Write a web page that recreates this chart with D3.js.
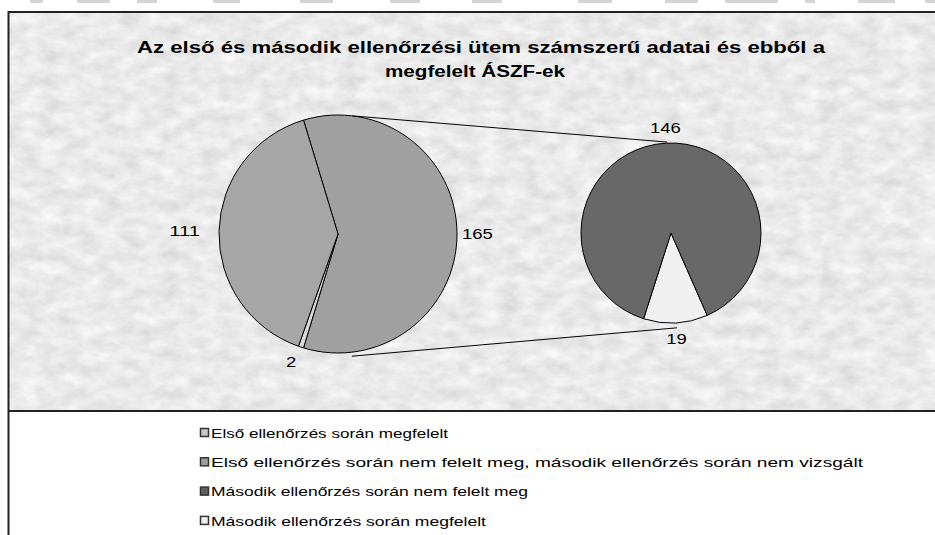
<!DOCTYPE html>
<html>
<head>
<meta charset="utf-8">
<script src="https://cdn.jsdelivr.net/npm/d3@7"></script>
<style>
  html, body { margin: 0; padding: 0; background: #ffffff; }
  svg { display: block; }
  text { font-family: "Liberation Sans", Arial, sans-serif; fill: #000; }
</style>
</head>
<body>
<svg id="chart" width="935" height="535"></svg>
<script>
// ---- data ----
const titleLines = ["Az első és második ellenőrzési ütem számszerű adatai és ebből a", "megfelelt ÁSZF-ek"];
const categories = [
  "Első ellenőrzés során megfelelt",
  "Első ellenőrzés során nem felelt meg, második ellenőrzés során nem vizsgált",
  "Második ellenőrzés során nem felelt meg",
  "Második ellenőrzés során megfelelt"
];
const values = [111, 2, 146, 19];
const primaryIdx = [0, 1];     // shown individually in the main pie
const secondaryIdx = [2, 3];   // split out into the secondary pie
const sliceColors = ["#a6a6a6", "#d8d8d8", "#686868", "#f0f0f0"];
const legendColors = ["#c8c8c8", "#a0a0a0", "#606060", "#f0f0f0"];
const otherColor = "#a0a0a0";

// ---- layout ----
const W = 935, H = 535;
const frame = { x: 9, y: 12, bottom: 411 };
const P = { cx: 338, cy: 234, r: 119 };
const S = { cx: 671, cy: 233, r: 90 };

const svg = d3.select("#chart");
const defs = svg.append("defs");
const f = defs.append("filter").attr("id", "tex").attr("x", 0).attr("y", 0).attr("width", 1).attr("height", 1);
f.append("feTurbulence").attr("type", "fractalNoise").attr("baseFrequency", "0.05 0.08")
  .attr("numOctaves", 5).attr("seed", 11).attr("result", "n");
f.append("feColorMatrix").attr("in", "n").attr("type", "matrix")
  .attr("values", "0.32 0 0 0 0.66  0.32 0 0 0 0.66  0.32 0 0 0 0.66  0 0 0 0 1");

// top strip remnants (decoration from the page above)
const strip = [[30,43],[77,110],[137,157],[213,240],[300,333],[390,420],[472,502],[578,612],[665,698],[725,778],[805,815],[858,895],[925,935]];
svg.selectAll("rect.strip").data(strip).join("rect")
  .attr("x", d => d[0]).attr("y", 0).attr("width", d => d[1] - d[0]).attr("height", 3)
  .attr("fill", "#d4d4d4");

// plot area background
svg.append("rect").attr("x", frame.x).attr("y", frame.y).attr("width", W - frame.x).attr("height", frame.bottom - frame.y)
  .attr("fill", "#d0d0d0");
svg.append("rect").attr("x", frame.x).attr("y", frame.y).attr("width", W - frame.x).attr("height", frame.bottom - frame.y)
  .attr("filter", "url(#tex)");

// frame lines
svg.append("line").attr("x1", frame.x - 0.5).attr("x2", W).attr("y1", frame.y).attr("y2", frame.y).attr("stroke", "#222").attr("stroke-width", 2);
svg.append("line").attr("x1", frame.x - 0.5).attr("x2", W).attr("y1", frame.bottom).attr("y2", frame.bottom).attr("stroke", "#222").attr("stroke-width", 2);
svg.append("line").attr("x1", frame.x - 0.5).attr("x2", frame.x - 0.5).attr("y1", frame.y - 1).attr("y2", H).attr("stroke", "#222").attr("stroke-width", 2);

// title
const titleG = svg.append("g");
titleG.append("text").attr("x", 481).attr("y", 53).attr("text-anchor", "middle")
  .attr("font-size", 16).attr("font-weight", "bold").attr("textLength", 688).attr("lengthAdjust", "spacingAndGlyphs")
  .text(titleLines[0]);
titleG.append("text").attr("x", 475).attr("y", 77).attr("text-anchor", "middle")
  .attr("font-size", 16).attr("font-weight", "bold").attr("textLength", 180).attr("lengthAdjust", "spacingAndGlyphs")
  .text(titleLines[1]);

const deg = Math.PI / 180;
// ---- primary pie ----
const otherValue = d3.sum(secondaryIdx, i => values[i]);
const total = d3.sum(values);
const otherSpan = otherValue / total * 2 * Math.PI;
const primaryData = [{ key: "other", value: otherValue, color: otherColor }]
  .concat(primaryIdx.slice().reverse().map(i => ({ key: i, value: values[i], color: sliceColors[i] })));
const pieP = d3.pie().sort(null).value(d => d.value)
  .startAngle(Math.PI / 2 - otherSpan / 2).endAngle(Math.PI / 2 - otherSpan / 2 + 2 * Math.PI);
const arcP = d3.arc().innerRadius(0).outerRadius(P.r);
const gP = svg.append("g").attr("transform", `translate(${P.cx},${P.cy})`);
const arcsP = pieP(primaryData);
gP.selectAll("path").data(arcsP).join("path")
  .attr("d", arcP).attr("fill", d => d.data.color).attr("stroke", "#000").attr("stroke-width", 1);

// ---- secondary pie ----
const secData = secondaryIdx.slice().reverse().map(i => ({ key: i, value: values[i], color: sliceColors[i] }));
const lastSpan = values[secondaryIdx[1]] / otherValue * 2 * Math.PI;
const secCenterAngle = 177 * deg;
const pieS = d3.pie().sort(null).value(d => d.value)
  .startAngle(secCenterAngle - lastSpan / 2).endAngle(secCenterAngle - lastSpan / 2 + 2 * Math.PI);
const arcS = d3.arc().innerRadius(0).outerRadius(S.r);
const gS = svg.append("g").attr("transform", `translate(${S.cx},${S.cy})`);
const arcsS = pieS(secData);
gS.selectAll("path").data(arcsS).join("path")
  .attr("d", arcS).attr("fill", d => d.data.color).attr("stroke", "#000").attr("stroke-width", 1);

// ---- connector lines ----
const pt = (c, a, r) => [c.cx + r * Math.sin(a), c.cy - r * Math.cos(a)];
const p1 = pt(P, 7 * deg, P.r), p2 = pt(S, -2.5 * deg, S.r + 1);
const p3 = pt(P, 173.5 * deg, P.r + 4), p4 = pt(S, 176.4 * deg, S.r + 5);
svg.append("line").attr("x1", p1[0]).attr("y1", p1[1]).attr("x2", p2[0]).attr("y2", p2[1]).attr("stroke", "#000");
svg.append("line").attr("x1", p3[0]).attr("y1", p3[1]).attr("x2", p4[0]).attr("y2", p4[1]).attr("stroke", "#000");

// ---- data labels ----
const labelFont = 15;
function addLabel(g, arc, r, extra) {
  const mid = (arc.startAngle + arc.endAngle) / 2;
  const x = (r + extra) * Math.sin(mid), y = -(r + extra) * Math.cos(mid);
  const anchor = Math.abs(Math.sin(mid)) < 0.3 ? "middle" : (Math.sin(mid) > 0 ? "start" : "end");
  const s = String(arc.data.value);
  g.append("text").attr("x", x).attr("y", y).attr("dy", "0.36em").attr("text-anchor", anchor)
    .attr("font-size", labelFont).attr("textLength", s.length * 10.3).attr("lengthAdjust", "spacingAndGlyphs")
    .text(s);
}
arcsP.forEach(a => {
  if (a.data.key === "other") addLabel(gP, a, P.r, 5);
  else if (a.data.key === 1) addLabel(gP, a, P.r, 15);
  else addLabel(gP, a, P.r, 19);
});
arcsS.forEach(a => addLabel(gS, a, S.r, 16));

// ---- legend ----
const legend = svg.append("g").attr("transform", "translate(200,433)");
const rowH = 29.3;
const rows = legend.selectAll("g").data(categories).join("g")
  .attr("transform", (d, i) => `translate(0,${i * rowH})`);
rows.append("rect").attr("x", 0.5).attr("y", -4.5).attr("width", 8).attr("height", 8)
  .attr("fill", (d, i) => legendColors[i]).attr("stroke", "#333").attr("stroke-width", 1.5);
const legendLen = [237, 652, 317, 275];
rows.append("text").attr("x", 11).attr("y", 0).attr("dy", "0.36em").attr("font-size", 13)
  .attr("textLength", (d, i) => legendLen[i]).attr("lengthAdjust", "spacingAndGlyphs")
  .text(d => d);
</script>
</body>
</html>
